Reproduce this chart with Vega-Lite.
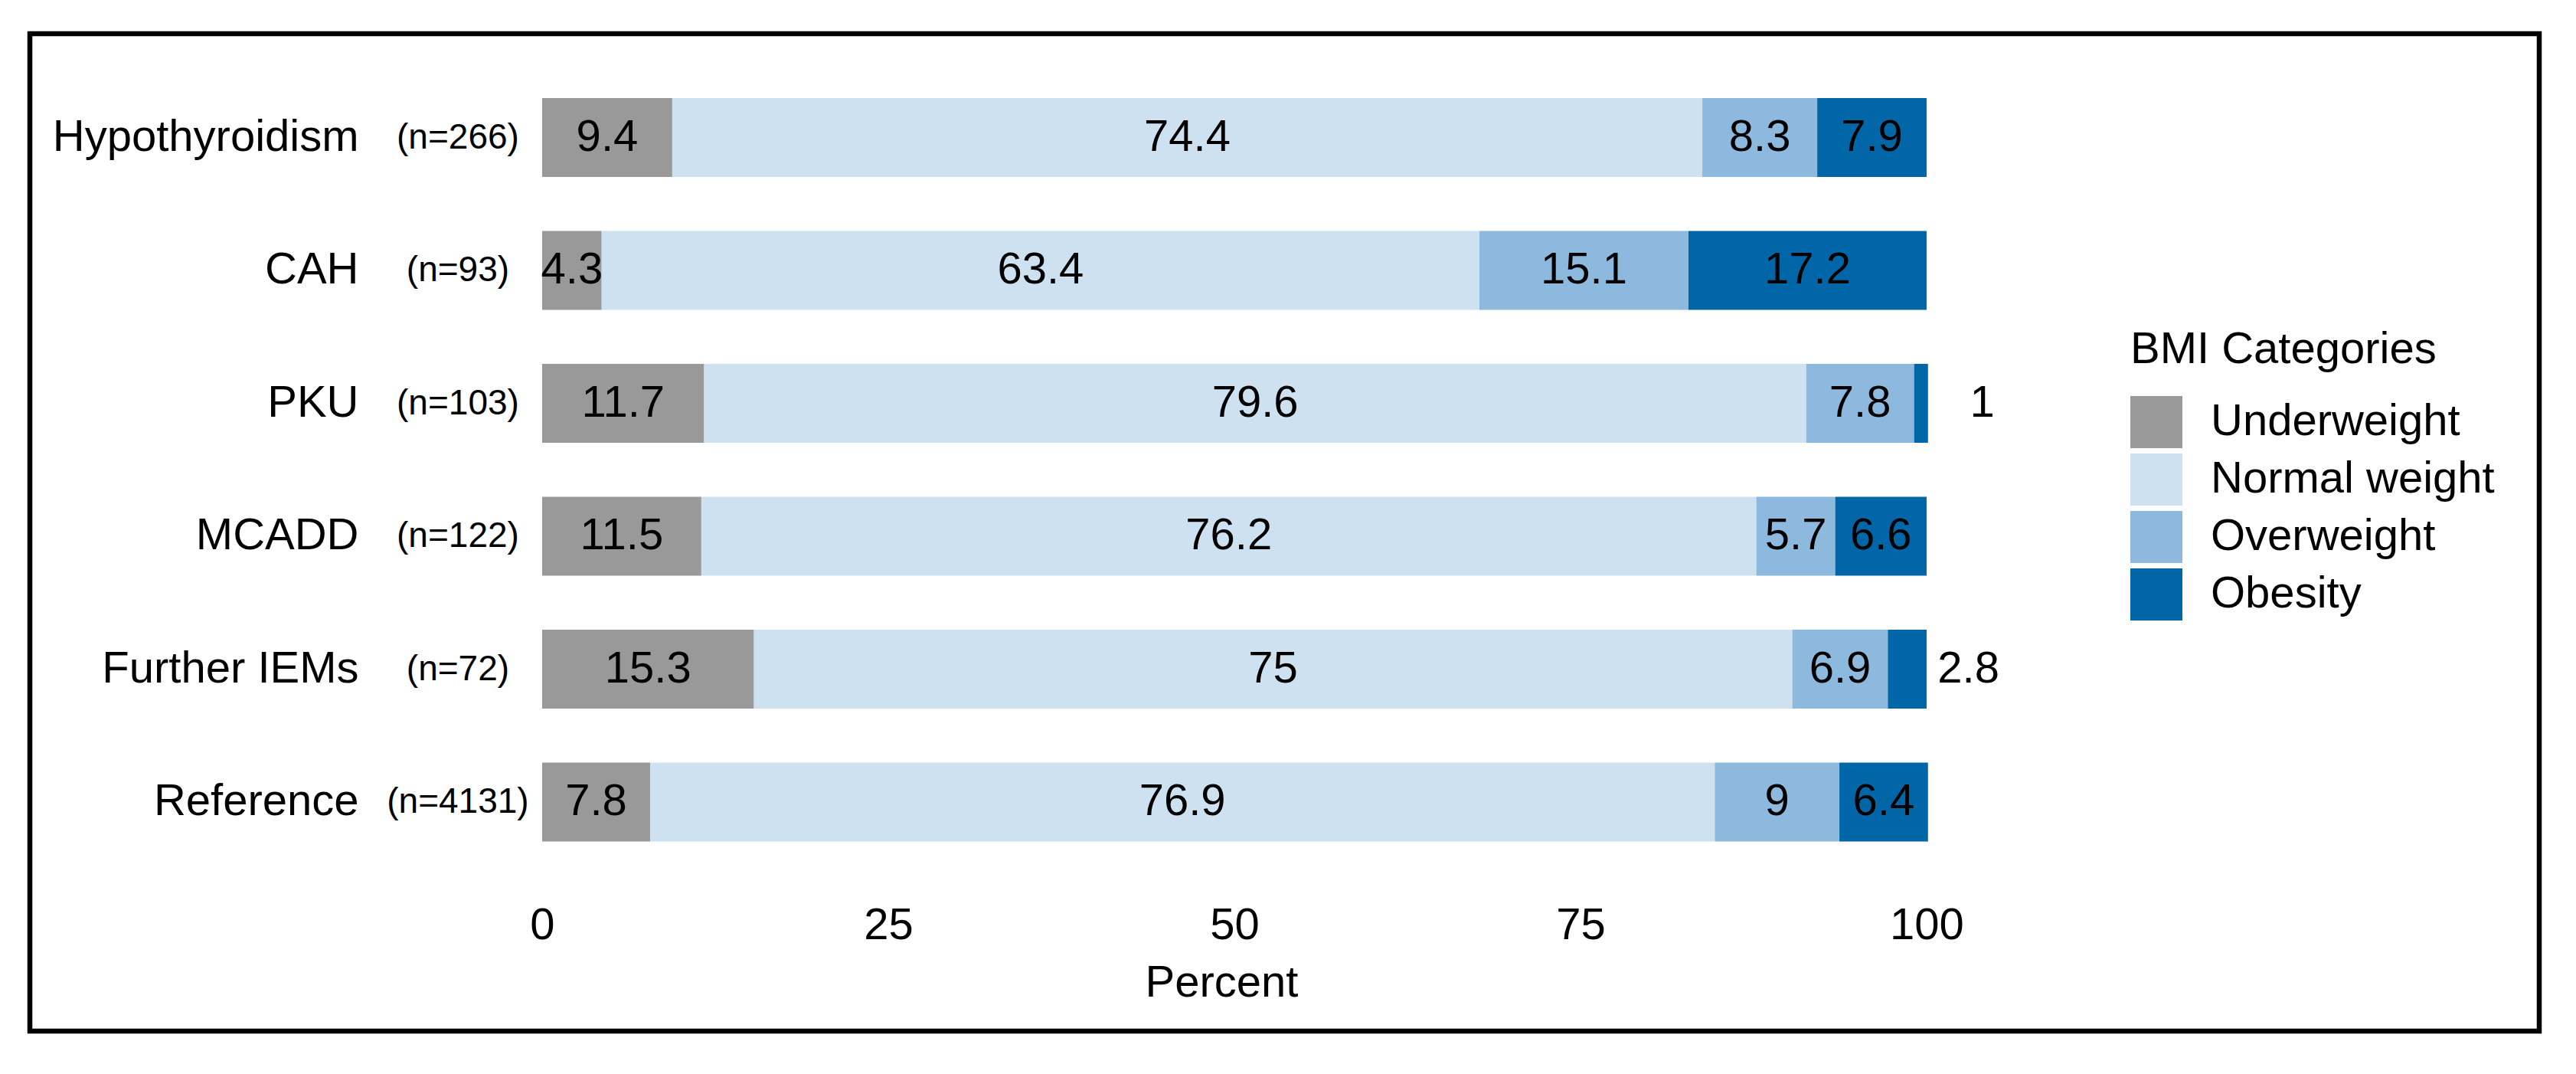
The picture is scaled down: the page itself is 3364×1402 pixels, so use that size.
{
  "$schema": "https://vega.github.io/schema/vega-lite/v6.json",
  "autosize": {"type": "none"},
  "padding": {"left": 39, "top": 44, "right": 48, "bottom": 56},
  "width": 3277,
  "height": 1302,
  "background": "white",
  "config": {
    "font": "Liberation Sans",
    "view": {"stroke": "black", "strokeWidth": 6.5},
    "axis": {"grid": false, "ticks": false, "domain": false, "labelColor": "black", "titleColor": "black", "labelFont": "Liberation Sans", "titleFont": "Liberation Sans"},
    "legend": {"labelFont": "Liberation Sans", "titleFont": "Liberation Sans"}
  },
  "datasets": {
    "bmi": [
      {"group": "Hypothyroidism", "category": "Underweight", "value": 9.4},
      {"group": "Hypothyroidism", "category": "Normal weight", "value": 74.4},
      {"group": "Hypothyroidism", "category": "Overweight", "value": 8.3},
      {"group": "Hypothyroidism", "category": "Obesity", "value": 7.9},
      {"group": "CAH", "category": "Underweight", "value": 4.3},
      {"group": "CAH", "category": "Normal weight", "value": 63.4},
      {"group": "CAH", "category": "Overweight", "value": 15.1},
      {"group": "CAH", "category": "Obesity", "value": 17.2},
      {"group": "PKU", "category": "Underweight", "value": 11.7},
      {"group": "PKU", "category": "Normal weight", "value": 79.6},
      {"group": "PKU", "category": "Overweight", "value": 7.8},
      {"group": "PKU", "category": "Obesity", "value": 1},
      {"group": "MCADD", "category": "Underweight", "value": 11.5},
      {"group": "MCADD", "category": "Normal weight", "value": 76.2},
      {"group": "MCADD", "category": "Overweight", "value": 5.7},
      {"group": "MCADD", "category": "Obesity", "value": 6.6},
      {"group": "Further IEMs", "category": "Underweight", "value": 15.3},
      {"group": "Further IEMs", "category": "Normal weight", "value": 75},
      {"group": "Further IEMs", "category": "Overweight", "value": 6.9},
      {"group": "Further IEMs", "category": "Obesity", "value": 2.8},
      {"group": "Reference", "category": "Underweight", "value": 7.8},
      {"group": "Reference", "category": "Normal weight", "value": 76.9},
      {"group": "Reference", "category": "Overweight", "value": 9},
      {"group": "Reference", "category": "Obesity", "value": 6.4}
    ],
    "groups": [
      {"group": "Hypothyroidism", "n": "(n=266)"},
      {"group": "CAH", "n": "(n=93)"},
      {"group": "PKU", "n": "(n=103)"},
      {"group": "MCADD", "n": "(n=122)"},
      {"group": "Further IEMs", "n": "(n=72)"},
      {"group": "Reference", "n": "(n=4131)"}
    ]
  },
  "layer": [
    {
      "data": {"name": "bmi"},
      "transform": [
        {"calculate": "indexof(['Underweight','Normal weight','Overweight','Obesity'], datum.category)", "as": "ord"},
        {"stack": "value", "groupby": ["group"], "sort": [{"field": "ord", "order": "ascending"}], "as": ["x0", "x1"]},
        {"calculate": "(datum.x0 + datum.x1) / 2", "as": "mid"}
      ],
      "layer": [
        {
          "mark": {"type": "bar"},
          "encoding": {
            "y": {"field": "group", "type": "nominal", "sort": ["Hypothyroidism", "CAH", "PKU", "MCADD", "Further IEMs", "Reference"],
              "scale": {"paddingInner": 0.406, "paddingOuter": 0.955, "align": 0.2535},
              "axis": {"title": null, "offset": -429, "labelPadding": 0, "labelFontSize": 58, "labelLimit": 0}},
            "x": {"field": "x0", "type": "quantitative",
              "scale": {"domain": [-37.0, 144.25], "nice": false, "zero": false},
              "axis": {"values": [0, 25, 50, 75, 100], "title": "Percent", "offset": -167, "labelPadding": 0, "labelFontSize": 58, "titleFontSize": 58, "titleFontWeight": "normal", "titlePadding": 17, "titleX": 1556, "labelFlush": false}},
            "x2": {"field": "x1"},
            "color": {"field": "category", "type": "nominal",
              "scale": {"domain": ["Underweight", "Normal weight", "Overweight", "Obesity"], "range": ["#999999", "#CDE1F0", "#8CB9DD", "#0066A8"]},
              "legend": {"title": "BMI Categories", "orient": "none", "legendX": 2743, "legendY": 384, "titleFontSize": 58, "titleFontWeight": "normal", "titleColor": "black", "titlePadding": 31, "titleLimit": 0, "labelFontSize": 58, "labelColor": "black", "symbolType": "square", "symbolSize": 4624, "symbolStrokeWidth": 0, "symbolOpacity": 1, "rowPadding": 7, "labelOffset": 37, "padding": 0, "labelLimit": 0}}
          }
        },
        {
          "transform": [{"filter": "datum.value >= 3"}],
          "mark": {"type": "text", "fontSize": 58, "color": "black", "baseline": "middle", "align": "center"},
          "encoding": {
            "y": {"field": "group", "type": "nominal", "sort": ["Hypothyroidism", "CAH", "PKU", "MCADD", "Further IEMs", "Reference"]},
            "x": {"field": "mid", "type": "quantitative"},
            "text": {"field": "value", "type": "quantitative"}
          }
        },
        {
          "transform": [{"filter": "datum.value < 3"}],
          "mark": {"type": "text", "fontSize": 58, "color": "black", "baseline": "middle", "align": "center", "dx": 80},
          "encoding": {
            "y": {"field": "group", "type": "nominal", "sort": ["Hypothyroidism", "CAH", "PKU", "MCADD", "Further IEMs", "Reference"]},
            "x": {"field": "mid", "type": "quantitative"},
            "text": {"field": "value", "type": "quantitative"}
          }
        }
      ]
    },
    {
      "data": {"name": "groups"},
      "mark": {"type": "text", "fontSize": 46, "color": "black", "baseline": "middle", "align": "center", "dx": -110},
      "encoding": {
        "y": {"field": "group", "type": "nominal", "sort": ["Hypothyroidism", "CAH", "PKU", "MCADD", "Further IEMs", "Reference"]},
        "x": {"datum": 0, "type": "quantitative"},
        "text": {"field": "n", "type": "nominal"}
      }
    }
  ]
}
